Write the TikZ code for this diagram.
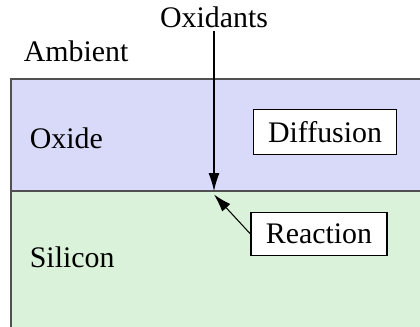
\documentclass[tikz,border=0pt]{standalone}
\usepackage{fontspec}
\setmainfont{Liberation Serif}
\usetikzlibrary{arrows.meta,positioning}
\definecolor{oxidefill}{RGB}{217,217,250}
\definecolor{siliconfill}{RGB}{217,242,217}
\definecolor{edgegray}{RGB}{80,80,80}
\tikzset{
  label/.style={font=\fontsize{17}{20}\selectfont, inner sep=2pt},
  procbox/.style={label, draw, fill=white, line width=0.6pt, inner xsep=8.5pt, inner ysep=6.5pt},
  flowarrow/.style={-{Latex[length=3.6mm,width=2.2mm]}, line width=0.6pt}
}

\begin{document}
\begin{tikzpicture}[x=0.02cm, y=-0.02cm]
\useasboundingbox (0,0) rectangle (420,326);

% Layers
\draw[edgegray, fill=oxidefill, line width=0.6pt] (11,79) rectangle (425,191);
\draw[edgegray, fill=siliconfill, line width=0.6pt] (11,191) rectangle (425,330);

% Layer labels
\node[label, anchor=west] (ambient) at (20,51) {Ambient};
\node[label, anchor=west] (oxide) at (26,138) {Oxide};
\node[label, anchor=west] (silicon) at (26,257) {Silicon};

% Oxidants entering and reaching the interface
\node[label] (oxidants) at (214,17) {Oxidants};
\coordinate (interface) at (214,191);
\draw[flowarrow] (oxidants.south) -- (interface);

% Process boxes
\node[procbox] (diffusion) at (325,132) {Diffusion};
\node[procbox] (reaction) at (319,234) {Reaction};
\draw[flowarrow] (reaction.west) -- ([yshift=-2]interface);

\end{tikzpicture}
\end{document}
